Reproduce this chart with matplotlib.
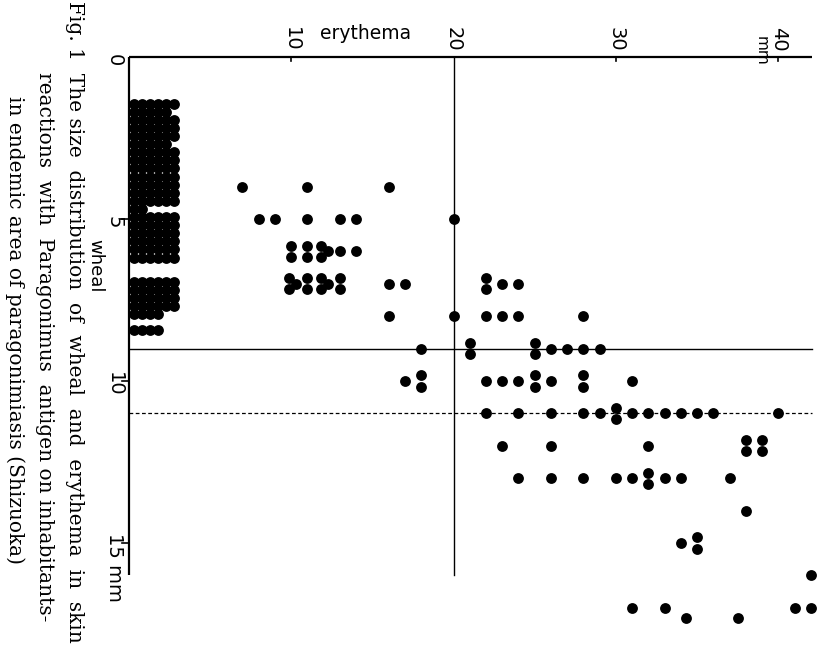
import numpy as np
import matplotlib.pyplot as plt
from collections import Counter

# wheal sizes (mm) with no erythema, and how many subjects at each
zero_wheal = [1.5, 2, 2.5, 3, 3.5, 4, 4.5, 5, 5.5, 6, 6.5, 7, 7.5, 8, 8.5]
zero_count = [11, 12, 11, 12, 12, 12, 8, 12, 12, 12, 0, 12, 12, 4, 4]

# subjects with erythema: (erythema mm, wheal mm), duplicates kept
erythema = [7, 11, 16,
            8, 9, 11, 13, 14, 20,
            10, 10, 11, 11, 12, 12, 12, 13, 14,
            10, 10, 10, 11, 11, 12, 12, 12, 13, 13, 16, 17, 22, 22, 23, 24,
            16, 20, 22, 23, 24, 28,
            18, 21, 21, 25, 25, 26, 27, 28, 29,
            17, 18, 18, 22, 23, 24, 25, 25, 26, 28, 28, 31,
            22, 24, 26, 28, 29, 30, 30, 31, 32, 33, 34, 35, 36, 40,
            23, 26, 32, 38, 38, 39, 39,
            24, 26, 28, 30, 31, 32, 32, 33, 34, 37,
            38,
            34, 35, 35,
            42,
            31, 33, 41, 42, 34.3, 37.5]
wheal = [4] * 3 + [5] * 6 + [6] * 9 + [7] * 16 + [8] * 6 + [9] * 9 + \
        [10] * 12 + [11] * 14 + [12] * 7 + [13] * 10 + [14] + [15] * 3 + \
        [16] + [17] * 4 + [17.3] * 2

ery_ticks = [10, 20, 30, 40]
wheal_ticks = [0, 5, 10]

caption = ["Fig. 1  The size  distribution  of  wheal  and  erythema  in  skin",
           "reactions  with  Paragonimus  antigen on inhabitants-",
           "in endemic area of paragonimiasis (Shizuoka)"]

fig = plt.figure(figsize=(8.17, 6.55), dpi=100)
ax = fig.add_axes([0, 0, 1, 1])
ax.axis('off')
# erythema runs along the top edge, wheal runs downward (figure is turned)
ax.set_xlim(-7.925, 42.38)
ax.set_ylim(18.457, -1.759)

# axes
ax.plot([0, 42.06], [0, 0], color='black', lw=1.6, solid_capstyle='butt')
ax.plot([0, 0], [0, 16], color='black', lw=1.6, solid_capstyle='butt')
for t in [10, 30, 40]:
    ax.plot([t, t], [0, 0.13], color='black', lw=1.2)
for t in [5, 10, 15]:
    ax.plot([-0.4, 0], [t, t], color='black', lw=1.2)

# reference lines
ax.plot([20, 20], [0, 16], color='black', lw=1.0)
ax.plot([0, 42.06], [9, 9], color='black', lw=1.0)
ax.plot([0, 42.06], [11, 11], color='black', lw=0.9, dashes=(3, 2))

# dots with no erythema, stacked two rows per level, six per row
zx, zy = [], []
for w, n in zip(zero_wheal, zero_count):
    for k in range(n):
        row, col = divmod(k, 6)
        zx.append(0.3 + 0.5 * col)
        zy.append(w - 0.06 + 0.25 * row)
ax.plot(zx, zy, 'o', color='black', ms=7.8, mec='none')

# other dots, duplicates stacked
offsets = {1: [(0, 0)],
           2: [(0, -0.17), (0, 0.17)],
           3: [(-0.15, -0.17), (-0.15, 0.17), (0.3, 0)]}
px, py = [], []
for (e, w), n in Counter(zip(erythema, wheal)).items():
    for dx, dy in offsets[n]:
        px.append(e + dx)
        py.append(w + dy)
ax.plot(px, py, 'o', color='black', ms=7.8, mec='none')

# tick labels (rotated like the scan)
sans = dict(family='DejaVu Sans', color='black')
for t in ery_ticks:
    ax.text(t, -0.56, str(t), rotation=-90, ha='center', va='center',
            fontsize=14, **sans)
ax.text(38.95, -0.2, 'mm', rotation=-90, ha='center', va='center',
        fontsize=11, **sans)
for t in wheal_ticks:
    ax.text(-0.9, t + 0.1, str(t), rotation=-90, ha='center', va='center',
            fontsize=14, **sans)
ax.text(-0.9, 14.7, '15 mm', rotation=-90, rotation_mode='anchor',
        ha='left', va='center', fontsize=14, **sans)
ax.text(14.6, -0.71, 'erythema', ha='center', va='center', fontsize=13.5,
        **sans)
ax.text(-2.07, 6.45, 'wheal', rotation=-90, ha='center', va='center',
        fontsize=13, **sans)

# caption
cap_x = [-3.68, -5.5, -7.35]
cap_y = [-1.72, 0.46, 1.2]
for s, x, y in zip(caption, cap_x, cap_y):
    ax.text(x, y, s, rotation=-90, rotation_mode='anchor', ha='left',
            va='baseline', fontsize=14.5, family='DejaVu Serif')

fig.savefig('out.png', dpi=100)
